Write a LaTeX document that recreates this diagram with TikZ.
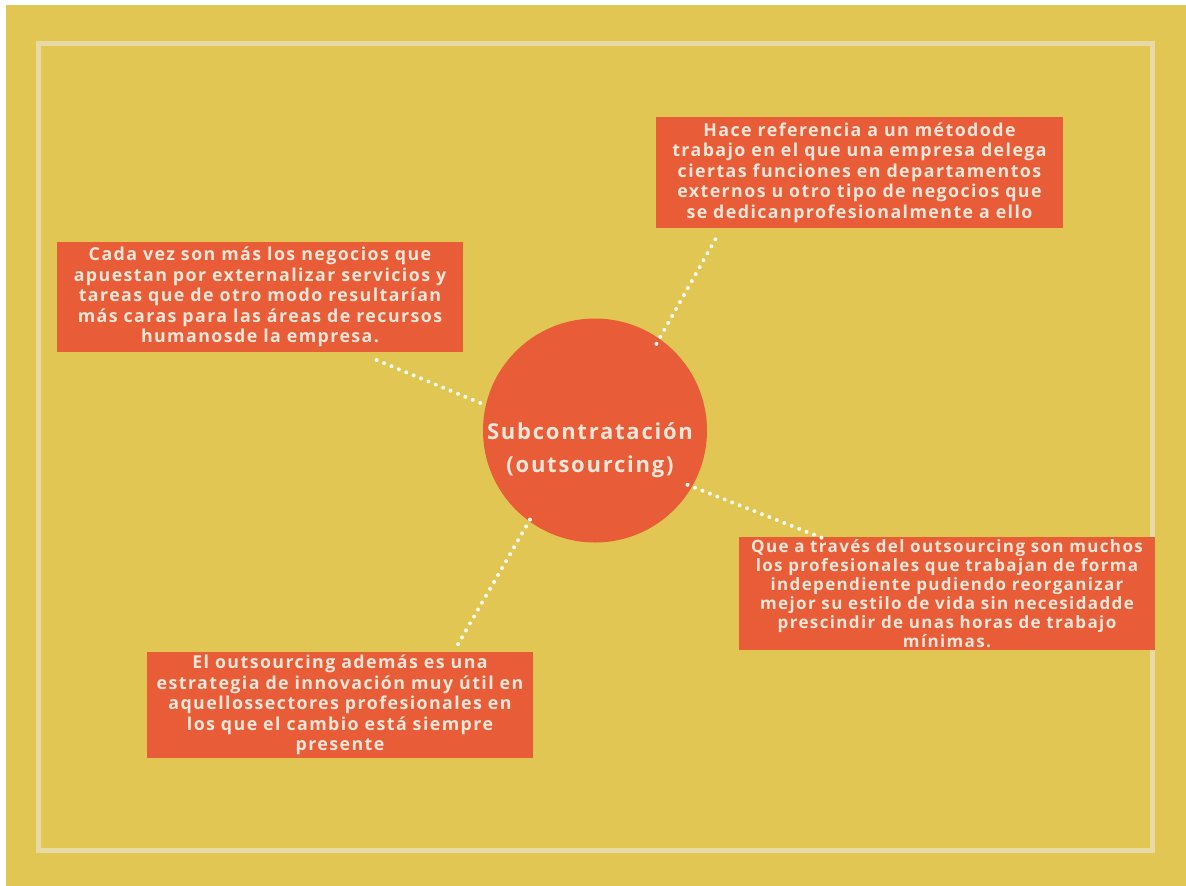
\documentclass[tikz,border=0pt]{standalone}
\usepackage{fontspec}
\setmainfont{Open Sans}[LetterSpace=8]
\usetikzlibrary{calc}
\definecolor{bgyellow}{HTML}{E1C654}
\definecolor{framecol}{HTML}{E8DAA4}
\definecolor{boxorange}{HTML}{E85C37}
\definecolor{txtcol}{HTML}{F4E6D8}
\tikzset{
  infobox/.style={fill=boxorange, draw=none, inner sep=0pt, align=center,
    text=txtcol, font=\fontsize{17.8}{20.5}\selectfont\bfseries},
  hub/.style={circle, fill=boxorange, draw=none, inner sep=0pt, minimum size=224pt,
    text=txtcol},
  hubtext/.style={align=center, text=txtcol, inner sep=0pt,
    font=\fontsize{22}{33}\selectfont\bfseries},
  dotline/.style={draw=white!92!bgyellow, line width=4pt, line cap=round,
    dash pattern=on 0pt off 8pt}
}
\begin{document}
\begin{tikzpicture}[x=1pt,y=-1pt]
\useasboundingbox (0,0) rectangle (1186,886);
\fill[white] (0,0) rectangle (1186,886);
\fill[bgyellow] (6,5) rectangle (1186,886);
\draw[framecol, line width=4.5pt] (38.5,43.5) rectangle (1152.5,850.5);

\node[infobox, minimum width=407pt, minimum height=111pt, text width=404pt] (b1) at (859.5,172.5)
  {Hace referencia a un métodode\\trabajo en el que una empresa delega\\ciertas funciones en departamentos\\externos u otro tipo de negocios que\\se dedicanprofesionalmente a ello};
\node[infobox, minimum width=406pt, minimum height=110pt, text width=404pt] (b2) at (260,297)
  {Cada vez son más los negocios que\\apuestan por externalizar servicios y\\tareas que de otro modo resultarían\\más caras para las áreas de recursos\\humanosde la empresa.};
\node[infobox, minimum width=416pt, minimum height=113pt, text width=414pt,
      font=\fontsize{17}{19}\selectfont\bfseries] (b3) at (947,593.5)
  {Que a través del outsourcing son muchos\\los profesionales que trabajan de forma\\independiente pudiendo reorganizar\\mejor su estilo de vida sin necesidadde\\prescindir de unas horas de trabajo\\mínimas.};
\node[infobox, minimum width=386pt, minimum height=106pt, text width=384pt] (b4) at (340,705)
  {El outsourcing además es una\\estrategia de innovación muy útil en\\aquellossectores profesionales en\\los que el cambio está siempre\\presente};

\node[hub] (c) at (595,430.5) {};
\node[hubtext] (ct) at (590,450) {Subcontratación\\(outsourcing)};

\coordinate (e1) at ($(b1.south west)+(63,5)$);
\coordinate (e2) at ($(b2.south west)+(313,5)$);
\coordinate (e3) at ($(b3.north west)+(83,1)$);
\coordinate (e4) at ($(b4.north west)+(308,-2)$);

\draw[dotline, shorten <=-6pt] (c.55) -- (e1);
\draw[dotline, shorten <=6pt] (c.167) -- (e2);
\draw[dotline, shorten <=-5pt] (c.-30) -- (e3);
\draw[dotline, shorten <=-2pt] (c.-126) -- (e4);
\end{tikzpicture}
\end{document}
